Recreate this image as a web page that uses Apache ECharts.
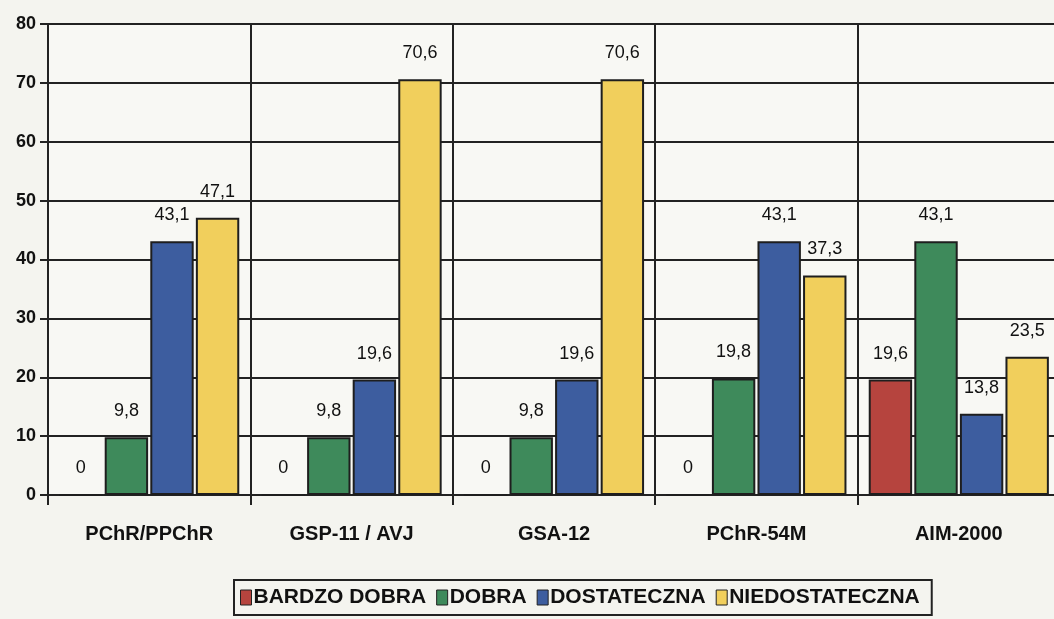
<!DOCTYPE html>
<html><head><meta charset="utf-8">
<script src="https://cdn.jsdelivr.net/npm/echarts@6/dist/echarts.min.js"></script>
<style>html,body{margin:0;padding:0;background:#f4f4ef;overflow:hidden}#c{width:1066px;height:619px}</style>
</head><body><div id="c"></div>
<script>
const categories = ['PChR/PPChR', 'GSP-11 / AVJ', 'GSA-12', 'PChR-54M', 'AIM-2000'];
const seriesNames = ['BARDZO DOBRA', 'DOBRA', 'DOSTATECZNA', 'NIEDOSTATECZNA'];
const bardzoDobra = [0, 0, 0, 0, 19.6];
const dobra = [9.8, 9.8, 9.8, 19.8, 43.1];
const dostateczna = [43.1, 19.6, 19.6, 43.1, 13.8];
const niedostateczna = [47.1, 70.6, 70.6, 37.3, 23.5];
const yTicks = [0, 10, 20, 30, 40, 50, 60, 70, 80];

const colors = ['#b6443e', '#3e8a5b', '#3d5d9f', '#f1cf5c'];
const dataArr = [bardzoDobra, dobra, dostateczna, niedostateczna];
const fmt = v => String(v).replace('.', ',');

const chart = echarts.init(document.getElementById('c'));
chart.setOption({
  backgroundColor: '#f4f4ef',
  animation: false,
  textStyle: {fontFamily: 'Liberation Sans, Arial, sans-serif'},
  grid: {left: 48, top: 24, width: 1012, bottom: 124, backgroundColor: '#f8f8f4', show: true, borderWidth: 0},
  legend: {
    data: seriesNames,
    left: 234, top: 580,
    itemWidth: 11, itemHeight: 15, itemGap: 10,
    padding: [7, 12, 7, 6],
    borderColor: '#222', borderWidth: 2,
    icon: 'rect',
    textStyle: {fontSize: 21, fontWeight: 'bold', color: '#111', padding: [0, 0, 0, -3]},
    itemStyle: {borderColor: '#222', borderWidth: 1}
  },
  xAxis: {
    type: 'category', data: categories,
    axisLine: {lineStyle: {color: '#222', width: 2}},
    axisTick: {show: true, length: 10, lineStyle: {color: '#222', width: 2}},
    splitLine: {show: true, lineStyle: {color: '#222', width: 2}},
    axisLabel: {fontSize: 20, fontWeight: 'bold', color: '#111', margin: 29}
  },
  yAxis: {
    type: 'value', min: 0, max: 80, interval: 10,
    axisLine: {show: true, lineStyle: {color: '#222', width: 2}},
    axisTick: {show: true, length: 8, lineStyle: {color: '#222', width: 2}},
    splitLine: {show: true, lineStyle: {color: '#222', width: 2}},
    axisLabel: {fontSize: 18, fontWeight: 'bold', color: '#111', margin: 12,
      formatter: v => yTicks.includes(v) ? String(v) : ''}
  },
  series: seriesNames.map((n, i) => ({
    name: n, type: 'bar', data: dataArr[i],
    barGap: '5%', barCategoryGap: '11%',
    itemStyle: {color: colors[i], borderColor: '#1e1e1e', borderWidth: 2},
    label: {show: true, position: 'top', distance: 17, fontSize: 18, color: '#111',
      formatter: p => fmt(p.value)}
  }))
});
</script></body></html>
